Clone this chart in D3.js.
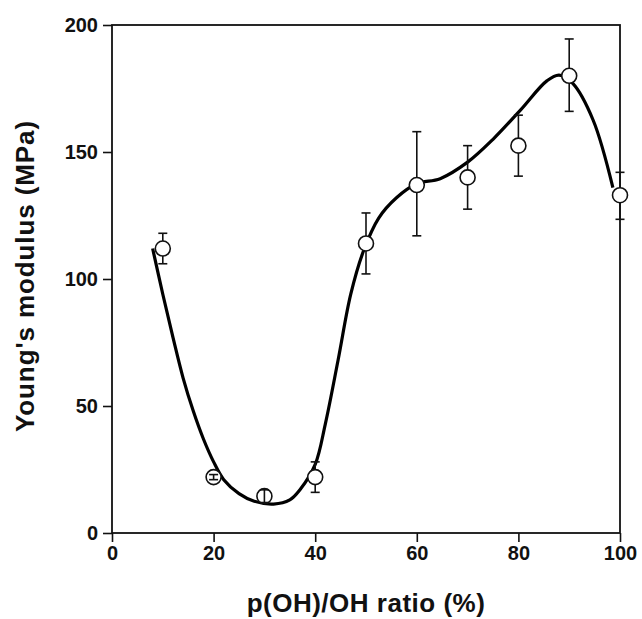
<!DOCTYPE html>
<html>

<head>
    <meta charset="utf-8">
    <style>
        body {
            margin: 0;
            background: #fff;
        }

        svg {
            font-family: 'Liberation Sans', Arial, Helvetica, sans-serif;
            font-weight: bold;
        }

        .axis .domain {
            display: none;
        }

        .axis .tick line {
            stroke: #111;
            stroke-width: 1.6;
        }

        .axis .tick text {
            font-size: 20px;
            font-weight: bold;
            fill: #111;
        }
    </style>
</head>

<body>
    <svg width="642" height="619"></svg>
</body>

<script src="https://d3js.org/d3.v7.min.js"></script>

<script>

    // measured points
    let ratio = [10, 20, 30, 40, 50, 60, 70, 80, 90, 100]
    let modulus = [112, 22, 14.5, 22, 114, 137, 140, 152.5, 180, 133]
    let errUp = [6, 1, 2.5, 6, 12, 21, 12.5, 12, 14.5, 9]
    let errDown = [6, 1, 2.5, 6, 12, 20, 12.5, 12, 14, 9.5]

    // fitted curve
    let fitX = [8, 10, 12, 14, 16, 18, 20, 22, 25, 28, 31.8, 35, 37, 40, 42, 44.5, 47, 49.5, 52.5, 56, 60, 64.6, 70, 75, 80.4, 85.6, 88, 90.7, 94.7, 98.6]
    let fitY = [112, 94, 77, 61, 48, 37, 28, 21, 15.5, 12.5, 11.4, 13, 17, 27, 43, 68, 94, 111, 124, 132, 137.5, 139.5, 146, 155, 166.5, 178, 180.3, 177, 162.6, 136]

    let xTicks = [0, 20, 40, 60, 80, 100]
    let yTicks = [0, 50, 100, 150, 200]

    let margin = { top: 25, right: 22, bottom: 86, left: 112 };
    let width = 642;
    let height = 619;

    let svg = d3.select("svg")

    let x = d3.scaleLinear()
        .domain([0, 100])
        .range([margin.left, width - margin.right])

    let y = d3.scaleLinear()
        .domain([0, 200])
        .range([height - margin.bottom, margin.top])

    let data = ratio.map((r, i) => ({ x: r, y: modulus[i], up: errUp[i], down: errDown[i] }))
    let fit = fitX.map((v, i) => ({ x: v, y: fitY[i] }))

    // axes
    svg.append("g")
        .attr("class", "x axis")
        .attr("transform", `translate(0,${y(0)})`)
        .call(d3.axisBottom(x).tickValues(xTicks).tickSize(9).tickPadding(4))

    svg.append("g")
        .attr("class", "y axis")
        .attr("transform", `translate(${x(0)},0)`)
        .call(d3.axisLeft(y).tickValues(yTicks).tickSize(9).tickPadding(5))

    // frame
    svg.append("rect")
        .attr("x", x(0))
        .attr("y", y(200))
        .attr("width", x(100) - x(0))
        .attr("height", y(0) - y(200))
        .style("fill", "none")
        .style("stroke", "#111")
        .style("stroke-width", 1.8)

    // fit line
    let line = d3.line()
        .x(d => x(d.x))
        .y(d => y(d.y))
        .curve(d3.curveCatmullRom.alpha(0.5))

    svg.append("path")
        .attr("d", line(fit))
        .style("fill", "none")
        .style("stroke", "#000")
        .style("stroke-width", 3.2)

    let r = 7.5
    let cap = 4.5

    function errorBars(sel) {
        sel.append("line")
            .attr("x1", d => x(d.x)).attr("x2", d => x(d.x))
            .attr("y1", d => y(d.y + d.up)).attr("y2", d => y(d.y - d.down))
        sel.append("line")
            .attr("x1", d => x(d.x) - cap).attr("x2", d => x(d.x) + cap)
            .attr("y1", d => y(d.y + d.up)).attr("y2", d => y(d.y + d.up))
        sel.append("line")
            .attr("x1", d => x(d.x) - cap).attr("x2", d => x(d.x) + cap)
            .attr("y1", d => y(d.y - d.down)).attr("y2", d => y(d.y - d.down))
        sel.selectAll("line")
            .style("stroke", "#111")
            .style("stroke-width", 1.6)
    }

    // error bars under the markers
    svg.append("g").selectAll("g")
        .data(data)
        .join("g")
        .call(errorBars)

    svg.append("g").selectAll("circle")
        .data(data)
        .join("circle")
        .attr("cx", d => x(d.x))
        .attr("cy", d => y(d.y))
        .attr("r", r)
        .style("fill", "#fff")
        .style("stroke", "#111")
        .style("stroke-width", 1.6)

    // small error bars sit inside the markers, so draw them on top
    svg.append("g").selectAll("g")
        .data(data.filter(d => y(d.y - d.down) - y(d.y + d.up) < 2 * r))
        .join("g")
        .call(errorBars)

    // axis titles
    svg.append("text")
        .attr("x", (x(0) + x(100)) / 2)
        .attr("y", 612)
        .attr("text-anchor", "middle")
        .style("font-size", "26px")
        .style("letter-spacing", "0.5px")
        .style("fill", "#111")
        .text("p(OH)/OH ratio (%)")

    svg.append("text")
        .attr("transform", `translate(34,${(y(0) + y(200)) / 2 - 3}) rotate(-90)`)
        .attr("text-anchor", "middle")
        .style("font-size", "26px")
        .style("letter-spacing", "0.9px")
        .style("fill", "#111")
        .text("Young's modulus (MPa)")

</script>

</html>
